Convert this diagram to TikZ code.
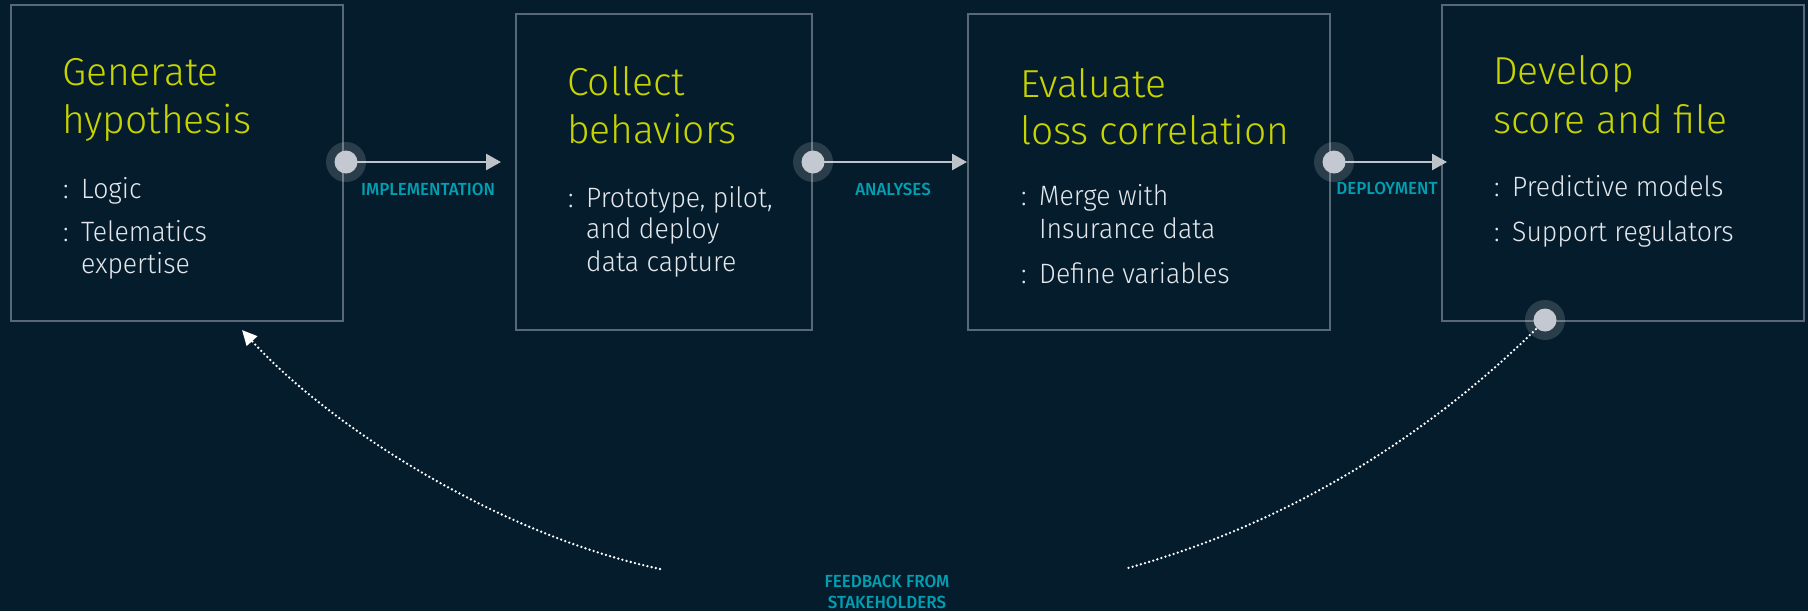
\documentclass[tikz,border=0pt]{standalone}
\usepackage{fontspec}
\setmainfont{Fira Sans}[UprightFont={* Light}, BoldFont={* Medium}]
\newfontfamily\itemfont{Fira Sans}[UprightFont={* Light}, FakeStretch=0.95]
\newfontfamily\tagfont{Fira Sans}[UprightFont={* Medium}, FakeStretch=0.97]
\usetikzlibrary{arrows.meta}

\definecolor{bg}{RGB}{5,28,44}
\definecolor{edge}{RGB}{88,104,118}
\definecolor{headc}{RGB}{200,212,0}
\definecolor{bodyc}{RGB}{228,232,236}
\definecolor{tealc}{RGB}{0,160,178}
\definecolor{knobc}{RGB}{196,200,208}
\definecolor{linkc}{RGB}{190,195,202}

\tikzset{
  stage/.style={draw=edge, line width=2pt, inner sep=0pt, anchor=north west},
  headline/.style={anchor=base west, inner sep=0pt, text=headc, font=\fontsize{39}{47}\selectfont},
  item/.style={anchor=base west, inner sep=0pt, text=bodyc, font=\itemfont\fontsize{28}{33}\selectfont},
  tag/.style={anchor=base, inner sep=0pt, text=tealc, font=\tagfont\fontsize{17.5}{20}\selectfont},
  halo/.style={circle, fill=white, fill opacity=.15, minimum size=40pt, inner sep=0pt},
  knob/.style={circle, fill=knobc, minimum size=23pt, inner sep=0pt},
  link/.style={draw=linkc, line width=2.6pt, -{Triangle[length=15pt,width=16pt]}},
  loopback/.style={draw=white, line width=2.6pt, line cap=round, dash pattern=on 0pt off 4.3pt}
}

\begin{document}
\begin{tikzpicture}[x=1pt,y=-1pt]
\fill[bg] (0,0) rectangle (1808,611);
\useasboundingbox (0,0) rectangle (1808,611);

% stage boxes
\node[stage, minimum width=332pt, minimum height=316pt] (b1) at (10,4) {};
\node[stage, minimum width=296pt, minimum height=316pt] (b2) at (515,13) {};
\node[stage, minimum width=362pt, minimum height=316pt] (b3) at (967,13) {};
\node[stage, minimum width=362pt, minimum height=316pt] (b4) at (1441,4) {};

% stage 1
\node[headline] (h1a) at (62,85) {Generate};
\node[headline] (h1b) at (62,133) {hypothesis};
\node[item] (c1a) at (63,198) {:};
\node[item] (i1a) at (81,198) {Logic};
\node[item] (c1b) at (63,241) {:};
\node[item] (i1b) at (81,241) {Telematics};
\node[item] (i1c) at (81,273) {expertise};

% stage 2
\node[headline] (h2a) at (567,95) {Collect};
\node[headline] (h2b) at (567,143) {behaviors};
\node[item] (c2a) at (568,207) {:};
\node[item] (i2a) at (586,207) {Prototype, pilot,};
\node[item] (i2b) at (586,238) {and deploy};
\node[item] (i2c) at (586,271) {data capture};

% stage 3
\node[headline] (h3a) at (1020,97) {Evaluate};
\node[headline] (h3b) at (1020,144) {loss correlation};
\node[item] (c3a) at (1021,205) {:};
\node[item] (i3a) at (1039,205) {Merge with};
\node[item] (i3b) at (1039,238) {Insurance data};
\node[item] (c3b) at (1021,283) {:};
\node[item] (i3c) at (1039,283) {Define variables};

% stage 4
\node[headline] (h4a) at (1493,84) {Develop};
\node[headline] (h4b) at (1493,133) {score and file};
\node[item] (c4a) at (1494,196) {:};
\node[item] (i4a) at (1512,196) {Predictive models};
\node[item] (c4b) at (1494,241) {:};
\node[item] (i4b) at (1512,241) {Support regulators};

% connector end points
\coordinate (p1) at (346,162);
\coordinate (p2) at (813,162);
\coordinate (p3) at (1334,162);
\coordinate (p4) at (1545,320);
\coordinate (t1) at (501,162);
\coordinate (t2) at (967,162);
\coordinate (t3) at (1447,162);
\coordinate (fbL) at (660,569);
\coordinate (fbR) at (1128,568);
\coordinate (back) at (242,330);

% feedback loop
\draw[loopback] (p4) .. controls (1435,432) and (1290,523) .. (fbR);
\draw[loopback, -{Triangle[length=15pt,width=14pt,fill=white]}]
  (fbL) .. controls (500,535) and (330,427) .. (back);

% flow arrows
\draw[link] (p1) -- (t1);
\draw[link] (p2) -- (t2);
\draw[link] (p3) -- (t3);

% handles
\node[halo] (g1) at (p1) {};
\node[halo] (g2) at (p2) {};
\node[halo] (g3) at (p3) {};
\node[halo] (g4) at (p4) {};
\node[knob] (k1) at (p1) {};
\node[knob] (k2) at (p2) {};
\node[knob] (k3) at (p3) {};
\node[knob] (k4) at (p4) {};

% arrow labels
\node[tag] (l1) at (428,195) {IMPLEMENTATION};
\node[tag] (l2) at (893,195) {ANALYSES};
\node[tag] (l3) at (1387,194) {DEPLOYMENT};
\node[tag] (l4) at (887,587) {FEEDBACK FROM};
\node[tag] (l5) at (887,608) {STAKEHOLDERS};
\end{tikzpicture}
\end{document}
